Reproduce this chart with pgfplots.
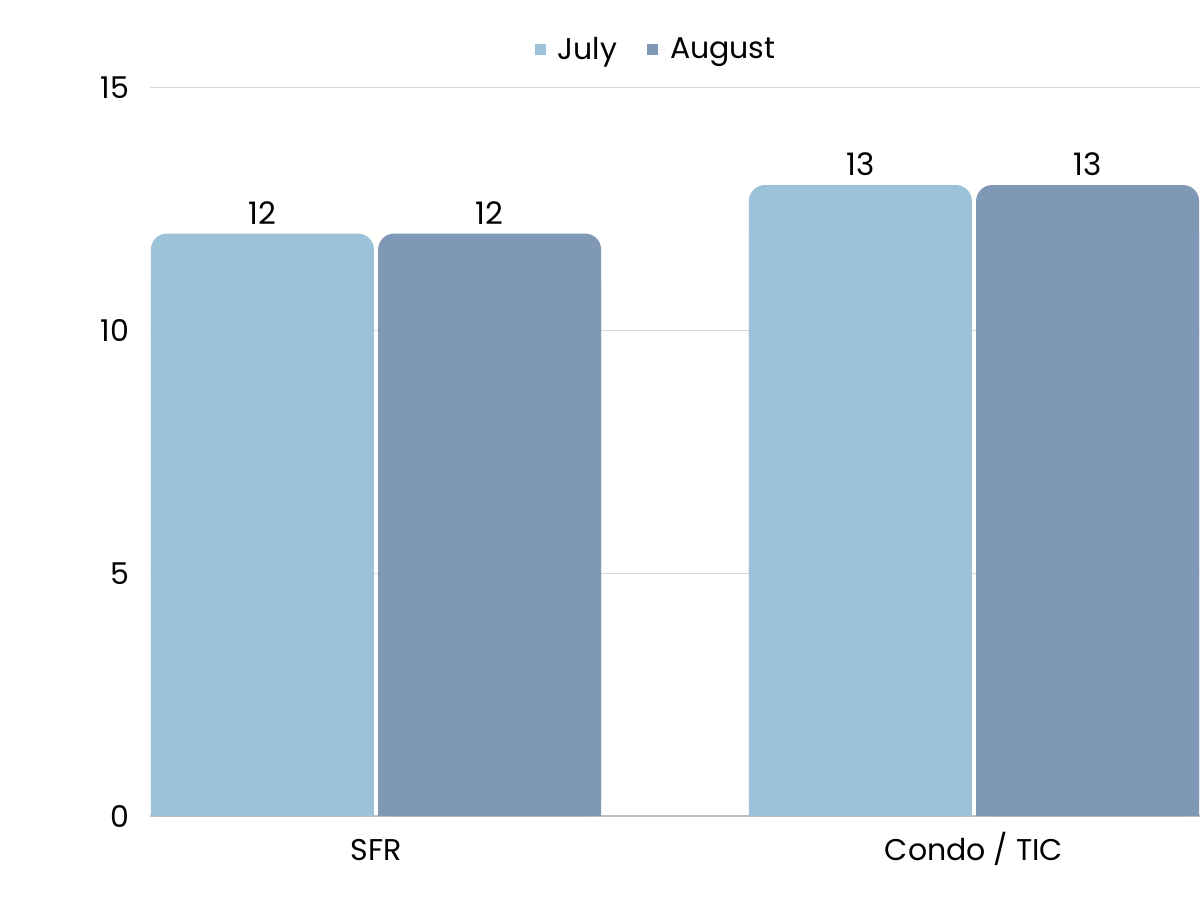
\documentclass[border=0pt]{standalone}
\usepackage{pgfplots}
\pgfplotsset{compat=1.18}
\usepackage{pgfplotstable}
\usepackage{fontspec}
\setmainfont{Poppins}
\definecolor{julyc}{HTML}{9BC2D8}
\definecolor{augc}{HTML}{7F98B5}
\definecolor{gridc}{HTML}{D9D9D9}
\definecolor{axisc}{HTML}{BFBFBF}
\pgfplotstableread{
x july august
0 12 12
1 13 13
}\datatable
\begin{document}
\begin{tikzpicture}
\useasboundingbox (-75pt,-42pt) rectangle (525pt,408pt);
\begin{axis}[
  scale only axis,
  width=525pt, height=364pt,
  xmin=-0.378, xmax=1.378,
  ymin=0, ymax=15,
  ytick={0,5,10,15},
  xtick={0,1},
  xticklabels={SFR, Condo / TIC},
  ybar,
  bar width=0.373,
  axis lines*=left,
  y axis line style={draw=none},
  x axis line style={draw=axisc, line width=0.6pt},
  major tick length=0pt,
  ymajorgrids,
  grid style={draw=gridc, line width=0.5pt},
  tick label style={font=\fontsize{15}{18}\selectfont, text=black},
  yticklabel style={anchor=east, xshift=-7pt},
  xticklabel style={anchor=north, yshift=-7.5pt, text height=11pt, text depth=3pt},
  /pgf/number format/assume math mode=true,
  legend style={at={(0.483,1.053)}, anchor=center, draw=none, fill=none,
    font=\fontsize{15}{18}\selectfont, legend columns=2,
    /tikz/every even column/.append style={column sep=13pt}},
  legend image code/.code={\fill[#1,rounded corners=0pt] (0pt,-2.8pt) rectangle (5.6pt,2.8pt);
    \path (0pt,0pt) -- (9.5pt,0pt);},
  nodes near coords style={font=\fontsize{15.5}{18}\selectfont, text=black, anchor=south, yshift=1pt},
]
\addplot[fill=julyc, draw=none, bar shift=-0.19, rounded corners=8pt, nodes near coords]
  table[x=x, y=july] {\datatable};
\addlegendentry{July}
\addplot[fill=augc, draw=none, bar shift=0.19, rounded corners=8pt, nodes near coords]
  table[x=x, y=august] {\datatable};
\addlegendentry{August}
\addplot[fill=julyc, draw=none, bar shift=-0.19, forget plot]
  table[x=x, y expr=\thisrow{july}-1] {\datatable};
\addplot[fill=augc, draw=none, bar shift=0.19, forget plot]
  table[x=x, y expr=\thisrow{august}-1] {\datatable};
\end{axis}
\end{tikzpicture}
\end{document}
